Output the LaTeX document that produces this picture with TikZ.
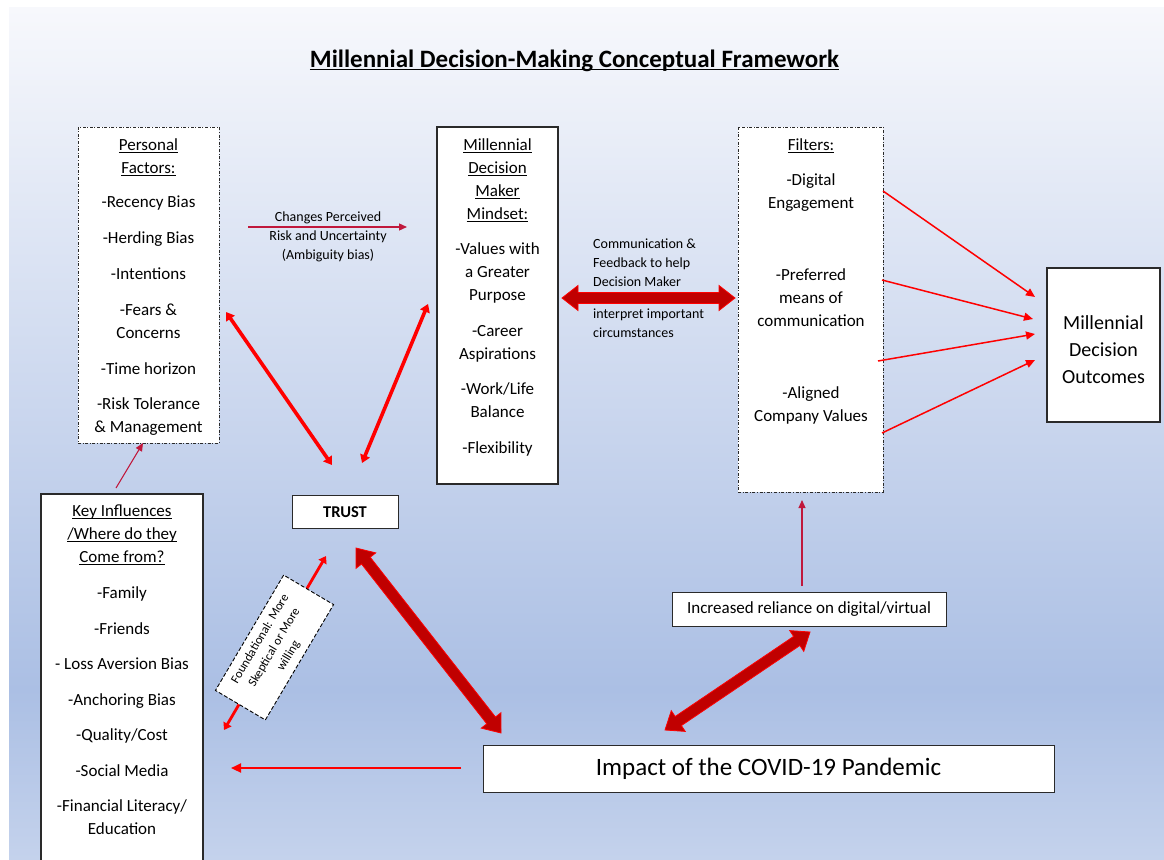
\documentclass[tikz,border=0pt]{standalone}
\usepackage{fontspec}
\setmainfont{Carlito}
\usetikzlibrary{arrows.meta,calc}

\definecolor{bgtop}{HTML}{F7F8FC}
\definecolor{bgmid}{HTML}{ABBFE4}
\definecolor{bgbot}{HTML}{C4D2EC}
\definecolor{linkred}{HTML}{FF0000}
\definecolor{darkfill}{HTML}{C00000}
\definecolor{crimson}{HTML}{C0183C}
\definecolor{boxline}{HTML}{2A2A2A}

% underline that ignores descenders
\newcommand\uln[1]{\underline{\raisebox{0pt}[\height][0pt]{#1}}}

% wide double-headed block arrow between two named points
\newcommand\blockarrow[2]{%
  \filldraw[bigarrow] (#1)
    -- ($(#1)!16pt!(#2)!12.5pt!90:(#2)$)
    -- ($(#1)!16pt!(#2)!5.5pt!90:(#2)$)
    -- ($(#2)!16pt!(#1)!5.5pt!-90:(#1)$)
    -- ($(#2)!16pt!(#1)!12.5pt!-90:(#1)$)
    -- (#2)
    -- ($(#2)!16pt!(#1)!12.5pt!90:(#1)$)
    -- ($(#2)!16pt!(#1)!5.5pt!90:(#1)$)
    -- ($(#1)!16pt!(#2)!5.5pt!-90:(#2)$)
    -- ($(#1)!16pt!(#2)!12.5pt!-90:(#2)$)
    -- cycle;}

\tikzset{
  dashdotbox/.style={draw=boxline, line width=0.9pt,
    dash pattern=on 3pt off 1.6pt on 1pt off 1.6pt, fill=white},
  solidbox/.style={draw=boxline, line width=1.3pt, fill=white},
  body/.style={font=\fontsize{17}{23}\selectfont, align=center, inner sep=0pt},
  small/.style={font=\fontsize{14}{18.8}\selectfont, inner sep=0pt},
  bigarrow/.style={fill=darkfill, draw=linkred, line width=0.8pt, line join=miter},
  boldlink/.style={draw=linkred, line width=3.6pt,
    {Triangle[length=8pt,width=10pt]}-{Triangle[length=8pt,width=10pt]}},
  midlink/.style={draw=linkred, line width=2.8pt,
    {Triangle[length=7pt,width=9pt]}-{Triangle[length=7pt,width=9pt]}},
  redlink/.style={draw=linkred, line width=1.5pt, -{Triangle[length=9pt,width=8pt]}},
  heavyred/.style={draw=linkred, line width=2.2pt, -{Triangle[length=10pt,width=9pt]}},
  crimsonlink/.style={draw=crimson, line width=1.3pt, -{Triangle[length=8pt,width=7pt]}},
}

\begin{document}
\begin{tikzpicture}[x=1pt,y=-1pt]
  \useasboundingbox (0,0) rectangle (1164,859);
  % page background with vertical gradient
  \fill[white] (0,0) rectangle (1164,859);
  \fill[top color=bgtop, bottom color=bgmid] (9,8) rectangle (1164,690);
  \fill[top color=bgmid, bottom color=bgbot] (9,689.5) rectangle (1164,859);

  % title
  \node[font=\fontsize{25}{30}\selectfont\bfseries, anchor=base, inner sep=0pt]
    (title) at (574.5,67.5) {\uln{Millennial Decision-Making Conceptual Framework}};

  % boxes
  \node[dashdotbox, minimum width=141pt, minimum height=316pt] (pf) at (148.5,285) {};
  \node[solidbox, minimum width=121pt, minimum height=357pt] (mm) at (497.5,305.5) {};
  \node[dashdotbox, minimum width=145pt, minimum height=365pt] (fl) at (810.5,309.5) {};
  \node[solidbox, minimum width=113pt, minimum height=154pt] (oc) at (1103.5,345) {};
  \node[solidbox, minimum width=162pt, minimum height=376pt] (ki) at (122,682) {};
  \node[solidbox, line width=1pt, minimum width=106pt, minimum height=33pt] (tr) at (345,511.5) {};
  \node[solidbox, line width=1pt, minimum width=274pt, minimum height=34pt] (ir) at (809,609) {};
  \node[solidbox, line width=1pt, minimum width=571pt, minimum height=47pt] (im) at (768.5,768.5) {};

  % box texts
  \node[body, anchor=north] (pft) at (148.5,138.5)
    {\uln{Personal}\\\uln{Factors:}\\[11pt]
     -Recency Bias\\[13pt] -Herding Bias\\[13pt] -Intentions\\[13pt]
     -Fears \&\\Concerns\\[13pt] -Time horizon\\[12pt]
     -Risk Tolerance\\\& Management};
  \node[body, anchor=north] (mmt) at (497.5,138.5)
    {\uln{Millennial}\\\uln{Decision}\\\uln{Maker}\\\uln{Mindset:}\\[12pt]
     -Values with\\a Greater\\Purpose\\[13pt]
     -Career\\Aspirations\\[12pt]
     -Work/Life\\Balance\\[13pt] -Flexibility};
  \node[body, anchor=north] (flt) at (811,138.5)
    {\uln{Filters:}\\[12pt]
     -Digital\\Engagement\\[49pt]
     -Preferred\\means of\\communication\\[49pt]
     -Aligned\\Company Values};
  \node[body, font=\fontsize{20}{27}\selectfont] (oct) at (1103.5,350)
    {Millennial\\Decision\\Outcomes};
  \node[body, anchor=north] (kit) at (122,505)
    {\uln{Key Influences}\\\uln{/Where do they}\\\uln{Come from?}\\[13pt]
     -Family\\[13pt] -Friends\\[12pt] - Loss Aversion Bias\\[13pt]
     -Anchoring Bias\\[12pt] -Quality/Cost\\[13pt] -Social Media\\[12pt]
     -Financial Literacy/\\Education};
  \node[font=\fontsize{16.5}{20}\selectfont\bfseries, inner sep=0pt] (trt) at (345,512.5) {TRUST};
  \node[font=\fontsize{17}{20}\selectfont, inner sep=0pt] (irt) at (809,609)
    {Increased reliance on digital/virtual};
  \node[font=\fontsize{25}{30}\selectfont, inner sep=0pt] (imt) at (768.5,769)
    {Impact of the COVID-19 Pandemic};

  % connector labels
  \node[small, align=center, font=\fontsize{14}{19}\selectfont] (cpt) at (328,237)
    {Changes Perceived\\Risk and Uncertainty\\(Ambiguity bias)};
  \node[small, align=left, anchor=west] (cmt) at (593,263)
    {Communication \&\\Feedback to help\\Decision Maker};
  \node[small, align=left, anchor=west] (cmb) at (593,323)
    {interpret important\\circumstances};

  % connector end points
  \coordinate (cpA) at (248,227);  \coordinate (cpB) at (407,227);
  \coordinate (kiA) at (116,488);  \coordinate (kiB) at (143,443);
  \coordinate (t1a) at (226,312);  \coordinate (t1b) at (332,465);
  \coordinate (t2a) at (428,304);  \coordinate (t2b) at (362,463);
  \coordinate (t3a) at (224,730);  \coordinate (t3b) at (326,556);
  \coordinate (b1a) at (356,548);  \coordinate (b1b) at (501,733);
  \coordinate (b2a) at (665,730);  \coordinate (b2b) at (810,632);
  \coordinate (b3a) at (562,298);  \coordinate (b3b) at (735,298);
  \coordinate (imA) at (461,768);  \coordinate (imB) at (231,768);
  \coordinate (irA) at (802,586);  \coordinate (irB) at (802,500);
  \coordinate (o1a) at (883,191);  \coordinate (o1b) at (1035,297);
  \coordinate (o2a) at (882,280);  \coordinate (o2b) at (1033,319);
  \coordinate (o3a) at (878,361);  \coordinate (o3b) at (1035,334);
  \coordinate (o4a) at (882,433);  \coordinate (o4b) at (1035,360);

  % thin connectors
  \draw[crimsonlink] (cpA) -- (cpB);
  \draw[crimsonlink, line width=1.1pt] (kiA) -- (kiB);
  \draw[crimsonlink, line width=1.1pt] (irA) -- (irB);
  \draw[redlink] (o1a) -- (o1b);
  \draw[redlink] (o2a) -- (o2b);
  \draw[redlink] (o3a) -- (o3b);
  \draw[redlink] (o4a) -- (o4b);
  \draw[heavyred] (imA) -- (imB);

  % trust links
  \draw[boldlink] (t1a) -- (t1b);
  \draw[boldlink] (t2a) -- (t2b);
  \draw[midlink] (t3a) -- (t3b);

  % block arrows
  \blockarrow{b1a}{b1b}
  \blockarrow{b2a}{b2b}
  \blockarrow{b3a}{b3b}

  % tilted label box over the trust link
  \node[draw=black, line width=0.9pt, dash pattern=on 4pt off 2pt, fill=white,
        rotate=59.4, minimum width=134pt, minimum height=58pt, inner sep=2pt,
        font=\fontsize{12.5}{16.5}\selectfont, align=center] (fd) at (274.5,647.5)
    {Foundational: More\\Skeptical or More\\willing};
\end{tikzpicture}
\end{document}
